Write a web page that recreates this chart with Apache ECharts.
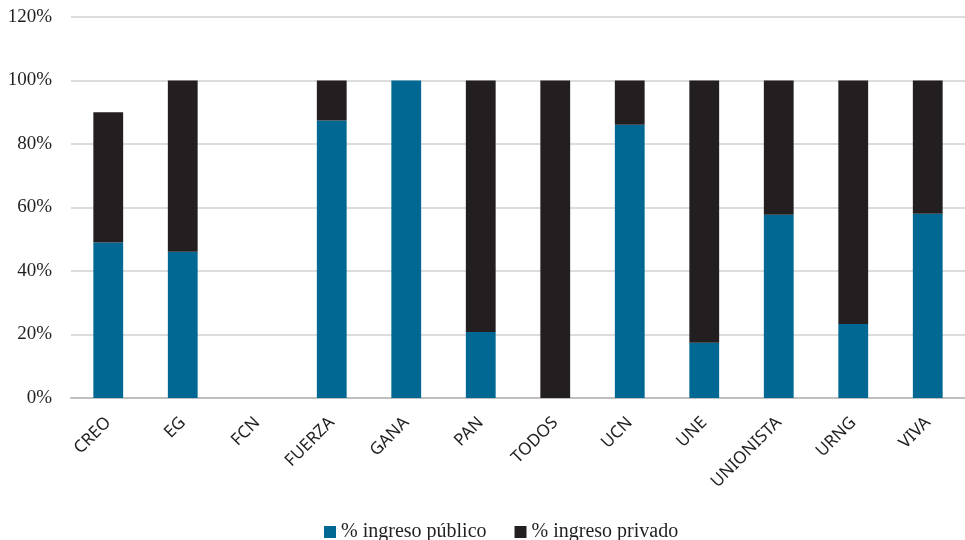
<!DOCTYPE html>
<html>
<head>
<meta charset="utf-8">
<script src="https://cdn.jsdelivr.net/npm/echarts@6/dist/echarts.min.js"></script>
<style>
  html, body { margin: 0; padding: 0; background: #fff; }
  #chart { width: 965px; height: 540px; }
</style>
</head>
<body>
<div id="chart"></div>
<script>
const partidos = ["CREO", "EG", "FCN", "FUERZA", "GANA", "PAN", "TODOS", "UCN", "UNE", "UNIONISTA", "URNG", "VIVA"];
const publico = [49, 46.1, 0, 87.4, 100, 20.8, 0, 86.1, 17.4, 57.7, 23.3, 58];
const privado = [41, 53.9, 0, 12.6, 0, 79.2, 100, 13.9, 82.6, 42.3, 76.7, 42];
const nombres = ["% ingreso público", "% ingreso privado"];

const serif = "'Liberation Serif', 'DejaVu Serif', serif";
const sans = "'Noto Sans', 'Open Sans', sans-serif";

const chart = echarts.init(document.getElementById("chart"));

const option = {
  animation: false,
  color: ["#006893", "#231f20"],
  grid: { left: 71, right: -3, top: 17, bottom: 142, containLabel: false },
  legend: {
    bottom: -7,
    left: 319,
    itemWidth: 12,
    itemHeight: 12,
    itemGap: 28,
    icon: "rect",
    textStyle: { fontFamily: serif, fontSize: 20, color: "#231f20" },
    data: nombres
  },
  xAxis: {
    type: "category",
    data: partidos,
    axisLine: { lineStyle: { color: "#bfbfbf", width: 2 } },
    axisTick: { show: false },
    axisLabel: {
      rotate: 45,
      margin: 22,
      interval: 0,
      fontFamily: sans,
      fontSize: 17,
      color: "#231f20"
    }
  },
  yAxis: {
    type: "value",
    min: 0,
    max: 120,
    interval: 20,
    axisLine: { show: false },
    axisTick: { show: false },
    splitLine: { lineStyle: { color: "#d0d0d0", width: 1.5 } },
    axisLabel: {
      margin: 19,
      formatter: "{value}%",
      fontFamily: serif,
      fontSize: 19,
      color: "#231f20"
    }
  },
  series: [
    {
      name: nombres[0],
      type: "bar",
      stack: "total",
      barWidth: "40%",
      data: publico
    },
    {
      name: nombres[1],
      type: "bar",
      stack: "total",
      barWidth: "40%",
      data: privado
    }
  ]
};

chart.setOption(option);
</script>
</body>
</html>
